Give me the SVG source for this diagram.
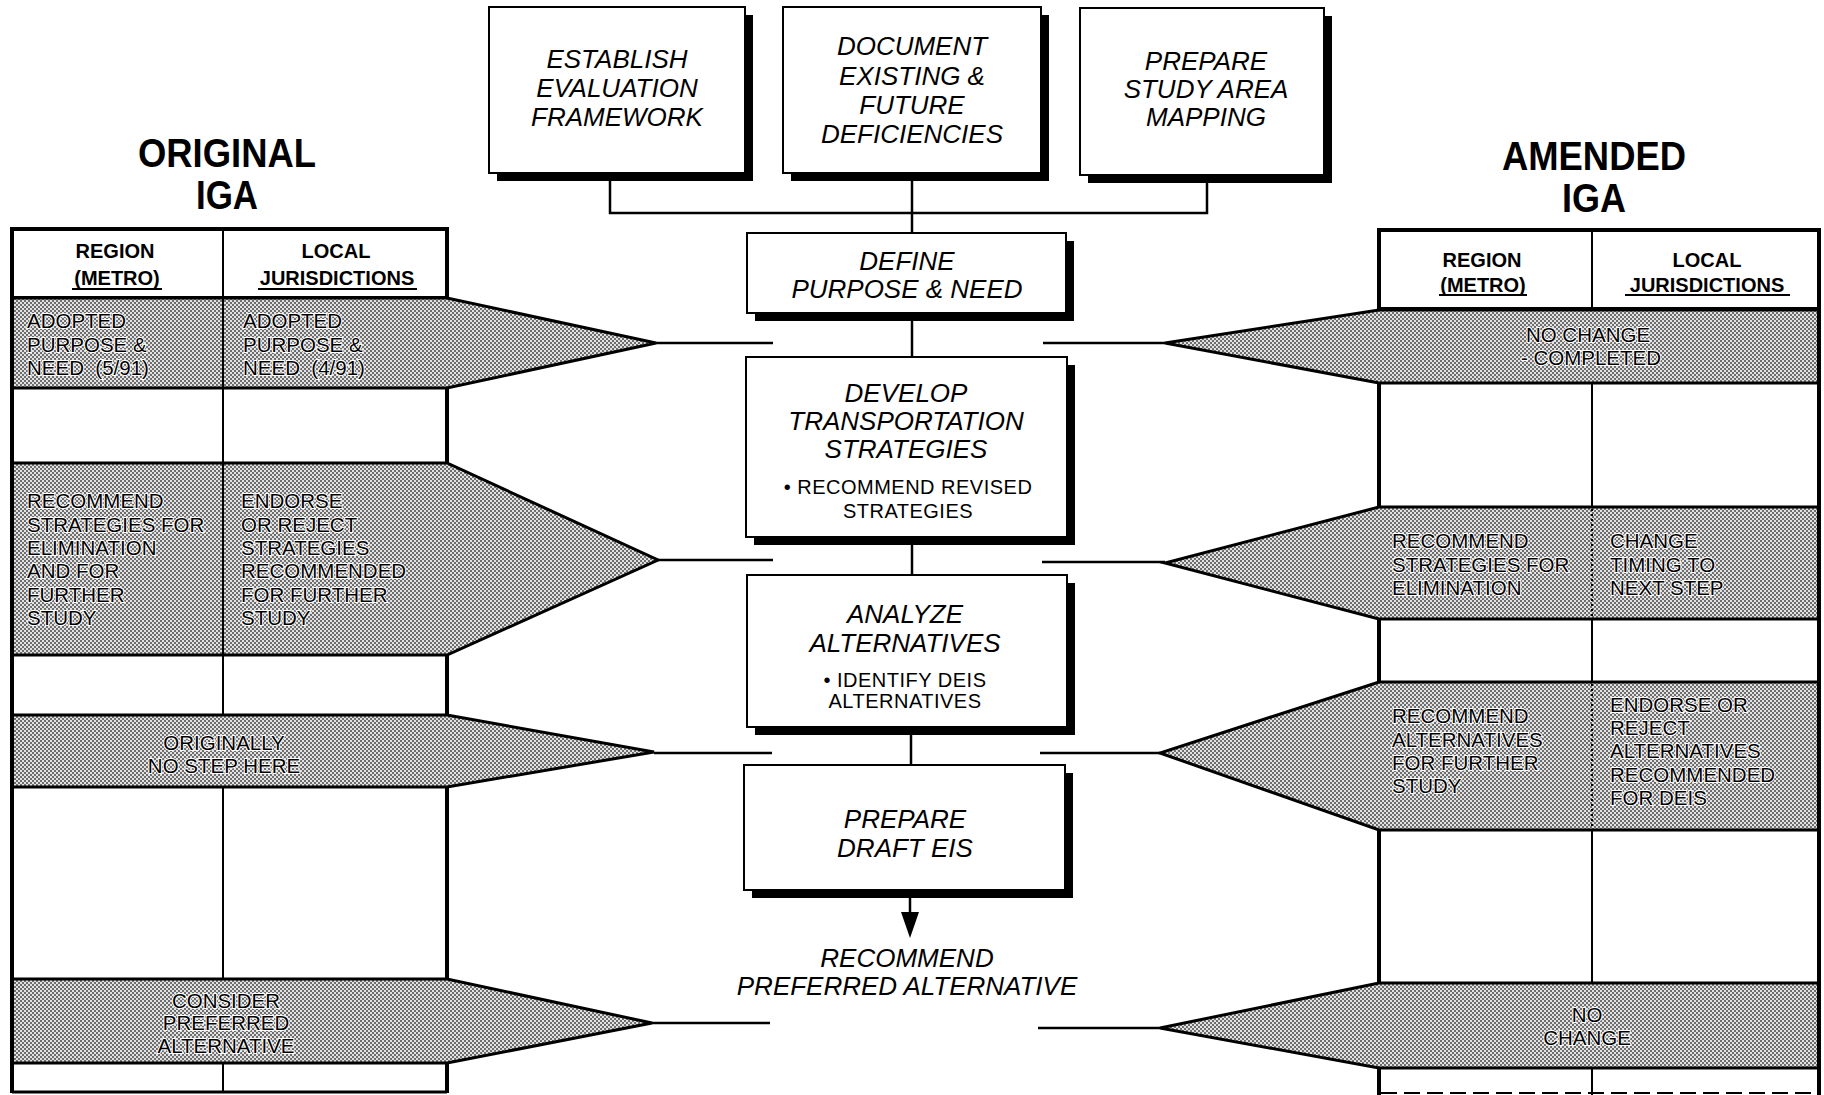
<svg xmlns="http://www.w3.org/2000/svg" width="1824" height="1095" viewBox="0 0 1824 1095">
<style>
.bg{fill:#fff}
.box{fill:#fff;stroke:#000;stroke-width:2}
.shadow{fill:#000}
.it{font-family:"Liberation Sans",Arial,sans-serif;font-style:italic;font-size:26px;fill:#000;text-anchor:middle}
.sub{font-family:"Liberation Sans",Arial,sans-serif;font-size:20px;letter-spacing:0.5px;fill:#000;text-anchor:middle;white-space:pre}
.title{font-family:"Liberation Sans",Arial,sans-serif;font-weight:bold;font-size:40px;fill:#000;text-anchor:middle}
.hdr{font-family:"Liberation Sans",Arial,sans-serif;font-weight:bold;font-size:20px;fill:#000;text-anchor:middle}
.cell{font-family:"Liberation Sans",Arial,sans-serif;font-size:20.5px;fill:#000;stroke:#fff;stroke-width:2px;paint-order:stroke;white-space:pre}
.mid{text-anchor:middle}
.shade{fill:url(#dots);stroke:#000;stroke-width:3;stroke-linejoin:miter}
.thick{stroke:#000;stroke-width:4;fill:none}
.thin{stroke:#000;stroke-width:2;fill:none}
.dotted{stroke:#000;stroke-width:2;stroke-dasharray:2 3;fill:none}
.conn{stroke:#000;stroke-width:2.5;fill:none}
</style>
<defs>
<pattern id="dots" width="4" height="4" patternUnits="userSpaceOnUse">
<rect width="4" height="4" fill="#e2e2e2"/>
<rect width="2" height="2" fill="#6e6e6e"/>
<rect x="2" y="2" width="2" height="2" fill="#6e6e6e"/>
</pattern>
</defs>
<rect class="bg" x="0" y="0" width="1824" height="1095"/>

<!-- Connectors -->
<g id="connectors">
<path class="conn" d="M610 173 V213 H1207 V175"/>
<path class="conn" d="M912 173 V233"/>
<path class="conn" d="M912 313 V357"/>
<path class="conn" d="M912 537 V575"/>
<path class="conn" d="M911 727 V765"/>
<path class="conn" d="M910 890 V914"/>
<polygon points="901,912 919,912 910,938" fill="#000"/>
<path class="conn" d="M656 343 H773"/>
<path class="conn" d="M1043 343 H1165"/>
<path class="conn" d="M658 560 H773"/>
<path class="conn" d="M1042 562 H1165"/>
<path class="conn" d="M654 753 H772"/>
<path class="conn" d="M1040 753 H1160"/>
<path class="conn" d="M652 1023 H770"/>
<path class="conn" d="M1038 1028 H1160"/>
</g>

<!-- Top boxes -->
<g id="box-establish">
<rect class="shadow" x="497" y="15" width="256" height="166"/>
<rect class="box" x="489" y="7" width="256" height="166"/>
<text class="it" x="617" y="68">ESTABLISH</text>
<text class="it" x="617" y="97">EVALUATION</text>
<text class="it" x="617" y="126">FRAMEWORK</text>
</g>
<g id="box-document">
<rect class="shadow" x="791" y="15" width="258" height="166"/>
<rect class="box" x="783" y="7" width="258" height="166"/>
<text class="it" x="912" y="55">DOCUMENT</text>
<text class="it" x="912" y="85">EXISTING &amp;</text>
<text class="it" x="912" y="114">FUTURE</text>
<text class="it" x="912" y="143">DEFICIENCIES</text>
</g>
<g id="box-mapping">
<rect class="shadow" x="1088" y="16" width="244" height="167"/>
<rect class="box" x="1080" y="8" width="244" height="167"/>
<text class="it" x="1206" y="70">PREPARE</text>
<text class="it" x="1206" y="98">STUDY AREA</text>
<text class="it" x="1206" y="126">MAPPING</text>
</g>

<!-- Center process boxes -->
<g id="box-define">
<rect class="shadow" x="755" y="241" width="319" height="80"/>
<rect class="box" x="747" y="233" width="319" height="80"/>
<text class="it" x="907" y="270">DEFINE</text>
<text class="it" x="907" y="298">PURPOSE &amp; NEED</text>
</g>
<g id="box-develop">
<rect class="shadow" x="754" y="365" width="321" height="180"/>
<rect class="box" x="746" y="357" width="321" height="180"/>
<text class="it" x="906" y="402">DEVELOP</text>
<text class="it" x="906" y="430">TRANSPORTATION</text>
<text class="it" x="906" y="458">STRATEGIES</text>
<text class="sub" x="908" y="494">• RECOMMEND REVISED</text>
<text class="sub" x="908" y="518">STRATEGIES</text>
</g>
<g id="box-analyze">
<rect class="shadow" x="755" y="583" width="320" height="152"/>
<rect class="box" x="747" y="575" width="320" height="152"/>
<text class="it" x="905" y="623">ANALYZE</text>
<text class="it" x="905" y="652">ALTERNATIVES</text>
<text class="sub" x="905" y="687">• IDENTIFY DEIS</text>
<text class="sub" x="905" y="708">ALTERNATIVES</text>
</g>
<g id="box-draft">
<rect class="shadow" x="752" y="773" width="321" height="125"/>
<rect class="box" x="744" y="765" width="321" height="125"/>
<text class="it" x="905" y="828">PREPARE</text>
<text class="it" x="905" y="857">DRAFT EIS</text>
</g>
<g id="node-recommend">
<text class="it" x="907" y="967">RECOMMEND</text>
<text class="it" x="907" y="995">PREFERRED ALTERNATIVE</text>
</g>

<!-- Original IGA -->
<g id="original-title">
<text class="title" x="227" y="167" textLength="178" lengthAdjust="spacingAndGlyphs">ORIGINAL</text>
<text class="title" x="227" y="209" textLength="62" lengthAdjust="spacingAndGlyphs">IGA</text>
</g>
<g id="original-table">
<polygon class="shade" points="12,298 447,298 656,343 447,388 12,388"/>
<polygon class="shade" points="12,463 447,463 658,560 447,655 12,655"/>
<polygon class="shade" points="12,715 447,715 654,752 447,787 12,787"/>
<polygon class="shade" points="12,979 447,979 652,1023 447,1063 12,1063"/>
<path class="thick" d="M10 229 H449"/>
<path class="thick" d="M12 229 V1093"/>
<path class="thick" d="M447 229 V298 M447 388 V463 M447 655 V715 M447 787 V979 M447 1063 V1093"/>
<path class="thin" d="M12 297 H447"/>
<path class="thin" d="M223 229 V715 M223 787 V979 M223 1063 V1093"/>
<path class="thin" d="M12 1092 H447" style="stroke-width:3"/>
<text class="hdr" x="115" y="258">REGION</text>
<text class="hdr" x="117" y="285">(METRO)</text>
<path class="thin" d="M72 289 H162"/>
<text class="hdr" x="336" y="258">LOCAL</text>
<text class="hdr" x="337" y="285">JURISDICTIONS</text>
<path class="thin" d="M258 289 H417"/>
<text class="cell" x="27" y="328">ADOPTED</text>
<text class="cell" x="27" y="352">PURPOSE &amp;</text>
<text class="cell" x="27" y="375">NEED  (5/91)</text>
<text class="cell" x="243" y="328">ADOPTED</text>
<text class="cell" x="243" y="352">PURPOSE &amp;</text>
<text class="cell" x="243" y="375">NEED  (4/91)</text>
<text class="cell" x="27" y="508">RECOMMEND</text>
<text class="cell" x="27" y="532">STRATEGIES FOR</text>
<text class="cell" x="27" y="555">ELIMINATION</text>
<text class="cell" x="27" y="578">AND FOR</text>
<text class="cell" x="27" y="602">FURTHER</text>
<text class="cell" x="27" y="625">STUDY</text>
<text class="cell" x="241" y="508">ENDORSE</text>
<text class="cell" x="241" y="532">OR REJECT</text>
<text class="cell" x="241" y="555">STRATEGIES</text>
<text class="cell" x="241" y="578">RECOMMENDED</text>
<text class="cell" x="241" y="602">FOR FURTHER</text>
<text class="cell" x="241" y="625">STUDY</text>
<text class="cell mid" x="224" y="750">ORIGINALLY</text>
<text class="cell mid" x="224" y="773">NO STEP HERE</text>
<text class="cell mid" x="226" y="1008">CONSIDER</text>
<text class="cell mid" x="226" y="1030">PREFERRED</text>
<text class="cell mid" x="226" y="1053">ALTERNATIVE</text>
</g>

<!-- Amended IGA -->
<g id="amended-title">
<text class="title" x="1594" y="170" textLength="184" lengthAdjust="spacingAndGlyphs">AMENDED</text>
<text class="title" x="1594" y="212" textLength="64" lengthAdjust="spacingAndGlyphs">IGA</text>
</g>
<g id="amended-table">
<polygon class="shade" points="1819,310 1379,310 1165,343 1379,383 1819,383"/>
<polygon class="shade" points="1819,507 1379,507 1165,563 1379,619 1819,619"/>
<polygon class="shade" points="1819,682 1379,682 1160,753 1379,830 1819,830"/>
<polygon class="shade" points="1819,983 1379,983 1160,1028 1379,1068 1819,1068"/>
<path class="thick" d="M1377 230 H1821"/>
<path class="thick" d="M1819 230 V1095"/>
<path class="thick" d="M1379 230 V310 M1379 383 V507 M1379 619 V682 M1379 830 V983 M1379 1068 V1095"/>
<path class="thin" d="M1379 308 H1819"/>
<path class="thin" d="M1592 230 V310 M1592 383 V507 M1592 619 V682 M1592 830 V983 M1592 1068 V1095"/>
<path class="dotted" d="M1592 509 V617 M1592 684 V828"/>
<path class="thin" d="M1381 1093 H1817" style="stroke-dasharray:16 7"/>
<text class="hdr" x="1482" y="267">REGION</text>
<text class="hdr" x="1483" y="292">(METRO)</text>
<path class="thin" d="M1439 295 H1527"/>
<text class="hdr" x="1707" y="267">LOCAL</text>
<text class="hdr" x="1707" y="292">JURISDICTIONS</text>
<path class="thin" d="M1625 295 H1790"/>
<text class="cell mid" x="1588" y="342">NO CHANGE</text>
<text class="cell mid" x="1591" y="365">- COMPLETED</text>
<text class="cell" x="1392" y="548">RECOMMEND</text>
<text class="cell" x="1392" y="572">STRATEGIES FOR</text>
<text class="cell" x="1392" y="595">ELIMINATION</text>
<text class="cell" x="1610" y="548">CHANGE</text>
<text class="cell" x="1610" y="572">TIMING TO</text>
<text class="cell" x="1610" y="595">NEXT STEP</text>
<text class="cell" x="1392" y="723">RECOMMEND</text>
<text class="cell" x="1392" y="747">ALTERNATIVES</text>
<text class="cell" x="1392" y="770">FOR FURTHER</text>
<text class="cell" x="1392" y="793">STUDY</text>
<text class="cell" x="1610" y="712">ENDORSE OR</text>
<text class="cell" x="1610" y="735">REJECT</text>
<text class="cell" x="1610" y="758">ALTERNATIVES</text>
<text class="cell" x="1610" y="782">RECOMMENDED</text>
<text class="cell" x="1610" y="805">FOR DEIS</text>
<text class="cell mid" x="1587" y="1022">NO</text>
<text class="cell mid" x="1587" y="1045">CHANGE</text>
</g>
</svg>
